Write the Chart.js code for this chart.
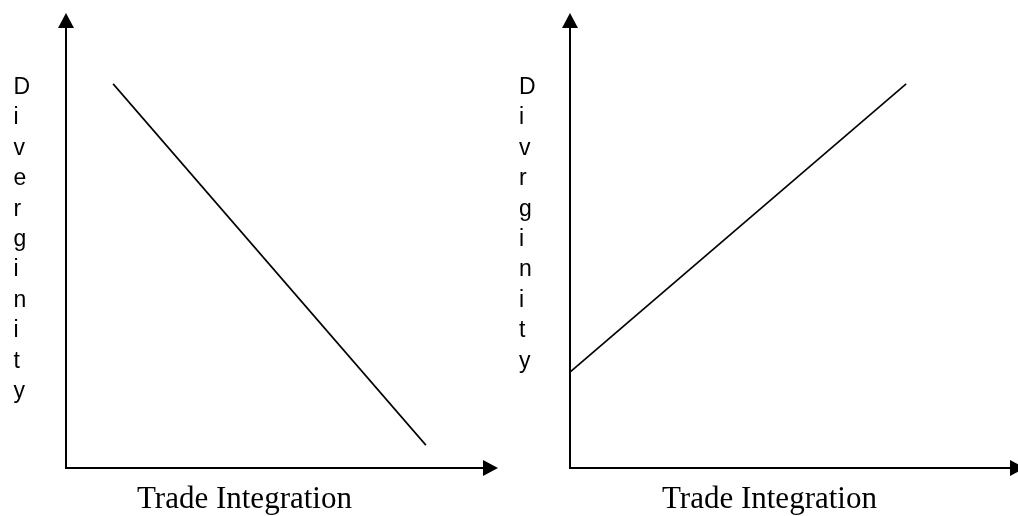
<!DOCTYPE html>
<html lang="en">
<head>
  <meta charset="UTF-8" />
  <title>Divergence vs Trade Integration</title>
  <script src="https://cdn.jsdelivr.net/npm/chart.js"></script>
  <style>
    body { margin: 0; background: #fff; width: 1018px; height: 516px; overflow: hidden; position: relative; }
    .panel { position: absolute; top: 0; width: 509px; height: 516px; }
    #leftPanel { left: 0; }
    #rightPanel { left: 509px; }
  </style>
</head>
<body>

<div class="panel" id="leftPanel"><canvas id="leftChart"></canvas></div>
<div class="panel" id="rightPanel"><canvas id="rightChart"></canvas></div>

<script>
  // data, axes scaled 0..100
  const leftX = [11.3, 86.3];
  const leftY = [87.3, 5.2];
  const rightX = [0, 76.4];
  const rightY = [21.8, 87.3];

  const xTitle = 'Trade Integration';
  const leftYTitle = ['D', 'i', 'v', 'e', 'r', 'g', 'i', 'n', 'i', 't', 'y'];
  const rightYTitle = ['D', 'i', 'v', 'r', 'g', 'i', 'n', 'i', 't', 'y'];

  // arrows on the axis ends + stacked letter title + serif x title
  const sketchPlugin = {
    id: 'sketch',
    afterDraw(chart, args, opts) {
      const { ctx, chartArea: a } = chart;
      ctx.save();
      ctx.fillStyle = '#000';
      ctx.strokeStyle = '#000';
      // y arrow
      ctx.beginPath();
      ctx.moveTo(a.left - 8, a.top);
      ctx.lineTo(a.left + 8, a.top);
      ctx.lineTo(a.left, a.top - 15);
      ctx.closePath();
      ctx.fill();
      // x arrow
      ctx.beginPath();
      ctx.moveTo(a.right, a.bottom - 8);
      ctx.lineTo(a.right, a.bottom + 8);
      ctx.lineTo(a.right + 15, a.bottom);
      ctx.closePath();
      ctx.fill();

      ctx.font = '23px "Liberation Sans", Arial, sans-serif';
      ctx.textAlign = 'left';
      ctx.textBaseline = 'alphabetic';
      opts.letters.forEach((ch, i) => ctx.fillText(ch, opts.lettersX, 94 + i * 30.4));

      ctx.font = '31px "Liberation Serif", "Times New Roman", serif';
      ctx.fillText(xTitle, opts.titleX, 508);
      ctx.restore();
    }
  };

  const makeChart = (id, xs, ys, pad, letters, lettersX, titleX) => {
    const axis = (hor) => ({
      type: 'linear', min: 0, max: 100,
      grid: { display: false, drawTicks: false },
      ticks: { display: false },
      border: { display: true, color: '#000', width: 2 },
      afterFit(s) { if (hor) s.height = 0; else s.width = 0; }
    });
    return new Chart(document.getElementById(id), {
      type: 'line',
      data: {
        datasets: [{
          data: xs.map((x, i) => ({ x, y: ys[i] })),
          borderColor: '#000',
          borderWidth: 1.6,
          pointRadius: 0,
          fill: false
        }]
      },
      options: {
        responsive: true,
        maintainAspectRatio: false,
        animation: false,
        layout: { padding: pad },
        scales: { x: axis(true), y: axis(false) },
        plugins: {
          legend: { display: false },
          tooltip: { enabled: false },
          sketch: { letters, lettersX, titleX }
        }
      },
      plugins: [sketchPlugin]
    });
  };

  makeChart('leftChart', leftX, leftY, { left: 66, top: 28, right: 26, bottom: 48 }, leftYTitle, 13.5, 137);
  makeChart('rightChart', rightX, rightY, { left: 61, top: 28, right: 8, bottom: 48 }, rightYTitle, 10, 153);
</script>
</body>
</html>
